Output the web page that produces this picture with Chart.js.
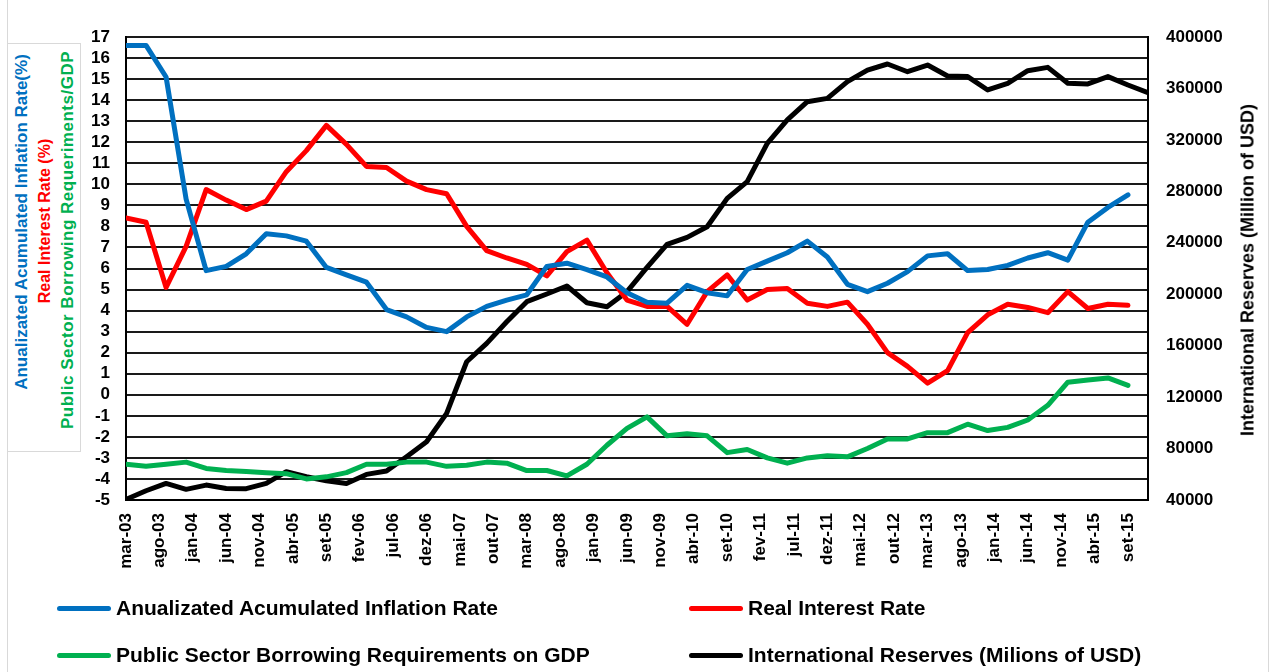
<!DOCTYPE html>
<html>
<head>
<meta charset="utf-8">
<script src="https://cdn.jsdelivr.net/npm/chart.js@4.4.1/dist/chart.umd.min.js"></script>
<style>
    body { margin: 0; background: #fff; font-family: 'Liberation Sans', Arial, sans-serif; font-weight: bold; }
    #wrap { position: relative; width: 1271px; height: 672px; overflow: hidden; }
    #chart { position: absolute; left: 0; top: 0; }
    .frame { position: absolute; left: 7px; top: -2px; width: 1260px; height: 690px; border: 1px solid #d9d9d9; }
    .titlebox { position: absolute; left: 7px; top: 43px; width: 72px; height: 407px; border: 1px solid #d9d9d9; background: #fff; }
    .rot { position: absolute; white-space: nowrap; transform: translate(-50%, -50%) rotate(-90deg); }
    .leg { position: absolute; display: flex; align-items: center; font-size: 21px; white-space: nowrap; }
    .leg span.sw { display: inline-block; width: 54px; height: 5px; border-radius: 3px; margin-right: 5px; }
</style>
</head>
<body>
<div id="wrap">
    <div class="frame"></div>
    <canvas id="chart" width="1271" height="672"></canvas>
    <div class="titlebox"></div>
    <div id="titles"></div>
    <div id="legend"></div>
</div>
<script>
// =============================================================================
// DATA - quarterly, mar-03 .. dez-15
// =============================================================================

const tickLabels = ['mar-03', 'ago-03', 'jan-04', 'jun-04', 'nov-04', 'abr-05', 'set-05', 'fev-06',
    'jul-06', 'dez-06', 'mai-07', 'out-07', 'mar-08', 'ago-08', 'jan-09', 'jun-09', 'nov-09',
    'abr-10', 'set-10', 'fev-11', 'jul-11', 'dez-11', 'mai-12', 'out-12', 'mar-13', 'ago-13',
    'jan-14', 'jun-14', 'nov-14', 'abr-15', 'set-15'];

const monthsPerPoint = 3;
const monthsPerTick = 5;

const inflacao = [16.6, 16.6, 15.1, 9.3, 5.9, 6.1, 6.7, 7.65, 7.55, 7.3, 6.05, 5.7, 5.35, 4.05,
    3.7, 3.2, 3.0, 3.7, 4.2, 4.5, 4.75, 6.1, 6.25, 5.95, 5.6, 4.85, 4.4, 4.35, 5.2, 4.85, 4.7,
    5.95, 6.35, 6.75, 7.3, 6.55, 5.25, 4.9, 5.3, 5.85, 6.6, 6.7, 5.9, 5.95, 6.15, 6.5, 6.75,
    6.4, 8.2, 8.9, 9.5];

const jurosReais = [8.4, 8.2, 5.1, 7.05, 9.75, 9.25, 8.8, 9.2, 10.6, 11.6, 12.8, 11.9, 10.85,
    10.8, 10.15, 9.75, 9.55, 8.0, 6.85, 6.5, 6.2, 5.65, 6.8, 7.35, 5.8, 4.5, 4.2, 4.2, 3.35,
    4.9, 5.7, 4.5, 5.0, 5.05, 4.35, 4.2, 4.4, 3.35, 2.0, 1.35, 0.55, 1.15, 2.95, 3.8, 4.3,
    4.15, 3.9, 4.9, 4.1, 4.3, 4.25];

const nfsp = [-3.3, -3.4, -3.3, -3.2, -3.5, -3.6, -3.65, -3.7, -3.75, -4.0, -3.9, -3.7, -3.3,
    -3.3, -3.2, -3.2, -3.4, -3.35, -3.2, -3.25, -3.6, -3.6, -3.85, -3.3, -2.4, -1.6, -1.05,
    -1.95, -1.85, -1.95, -2.75, -2.6, -3.0, -3.25, -3.0, -2.9, -2.95, -2.55, -2.1, -2.1, -1.8,
    -1.8, -1.4, -1.7, -1.55, -1.2, -0.5, 0.6, 0.7, 0.8, 0.45];

const reservas = [40500, 47200, 52900, 48300, 51600, 49000, 48800, 52900, 62000, 58100, 55000,
    52900, 59900, 62500, 73700, 85300, 107400, 147500, 161800, 178600, 194200, 200200, 206400,
    193400, 190300, 202000, 220900, 238800, 244200, 252500, 274500, 287500, 317300, 335500,
    349700, 352300, 365300, 374300, 379000, 373000, 378200, 369700, 369200, 358800, 364000,
    373800, 376400, 364000, 363500, 369200, 362700, 356700];

const series = [
    { label: 'Anualizated Acumulated Inflation Rate', data: inflacao, color: '#0070C0', axis: 'y' },
    { label: 'Real Interest Rate', data: jurosReais, color: '#FF0000', axis: 'y' },
    { label: 'Public Sector Borrowing Requirements on GDP', data: nfsp, color: '#00B050', axis: 'y' },
    { label: 'International Reserves (Milions of USD)', data: reservas, color: '#000000', axis: 'y1' }
];

// =============================================================================
// CHART
// =============================================================================

const FONT = "'Liberation Sans', Arial, sans-serif";
const tickFont = { family: FONT, size: 17, weight: 'bold' };

function toPoints(values) {
    return values.map((v, i) => ({ x: i * monthsPerPoint, y: v }));
}

new Chart(document.getElementById('chart'), {
    type: 'line',
    data: {
        datasets: series.map(s => ({
            label: s.label,
            data: toPoints(s.data),
            yAxisID: s.axis,
            borderColor: s.color,
            backgroundColor: s.color,
            borderWidth: 5,
            borderJoinStyle: 'round',
            borderCapStyle: 'round',
            pointRadius: 0,
            tension: 0,
            fill: false
        }))
    },
    options: {
        responsive: false,
        animation: false,
        layout: { padding: { top: 37, left: 0, right: 0, bottom: 0 } },
        plugins: { legend: { display: false }, tooltip: { enabled: false } },
        scales: {
            x: {
                type: 'linear',
                min: 0,
                max: (tickLabels.length - 1) * monthsPerTick + monthsPerPoint,
                afterBuildTicks: axis => {
                    axis.ticks = tickLabels.map((_, i) => ({ value: i * monthsPerTick }));
                },
                afterFit: scale => { scale.height = 172; },
                grid: { display: false },
                border: { display: true, color: '#000', width: 2 },
                ticks: {
                    autoSkip: false,
                    minRotation: 90,
                    maxRotation: 90,
                    padding: 5,
                    color: '#000',
                    font: tickFont,
                    callback: v => tickLabels[Math.round(v / monthsPerTick)]
                }
            },
            y: {
                position: 'left',
                min: -5,
                max: 17,
                afterFit: scale => { scale.width = 126; },
                grid: { color: '#1a1a1a', lineWidth: 2, drawTicks: false },
                border: { display: true, color: '#000', width: 2 },
                ticks: {
                    stepSize: 1,
                    autoSkip: false,
                    padding: 16,
                    color: '#000',
                    font: tickFont,
                    callback: v => String(v)
                }
            },
            y1: {
                position: 'right',
                min: 40000,
                max: 400000,
                afterFit: scale => { scale.width = 123; },
                grid: { drawOnChartArea: false, drawTicks: false },
                border: { display: true, color: '#000', width: 2 },
                ticks: {
                    stepSize: 40000,
                    autoSkip: false,
                    padding: 18,
                    color: '#000',
                    font: tickFont,
                    callback: v => String(v)
                }
            }
        }
    }
});

// =============================================================================
// TITELS + LEGENDE (html, rotated text)
// =============================================================================

const axisTitles = [
    { text: 'Anualizated Acumulated Inflation Rate(%)', color: '#0070C0', x: 22, y: 222, size: 17, spacing: 0 },
    { text: 'Real Interest Rate (%)', color: '#FF0000', x: 45, y: 221, size: 16, spacing: 0 },
    { text: 'Public Sector Borrowing Requeriments/GDP', color: '#00B050', x: 68, y: 240, size: 17, spacing: 0.5 },
    { text: 'International Reserves (Million of USD)', color: '#000000', x: 1248, y: 270, size: 18, spacing: 0 }
];

const titles = document.getElementById('titles');
axisTitles.forEach(t => {
    const el = document.createElement('div');
    el.className = 'rot';
    el.textContent = t.text;
    el.style.left = t.x + 'px';
    el.style.top = t.y + 'px';
    el.style.color = t.color;
    el.style.fontSize = t.size + 'px';
    el.style.letterSpacing = t.spacing + 'px';
    titles.appendChild(el);
});

const legendPos = [[57, 608], [689, 608], [57, 655], [689, 655]];
const legend = document.getElementById('legend');
series.forEach((s, i) => {
    const el = document.createElement('div');
    el.className = 'leg';
    el.style.left = legendPos[i][0] + 'px';
    el.style.top = (legendPos[i][1] - 12) + 'px';
    el.style.height = '24px';
    el.innerHTML = '<span class="sw" style="background:' + s.color + '"></span>';
    el.appendChild(document.createTextNode(s.label));
    legend.appendChild(el);
});
</script>
</body>
</html>
